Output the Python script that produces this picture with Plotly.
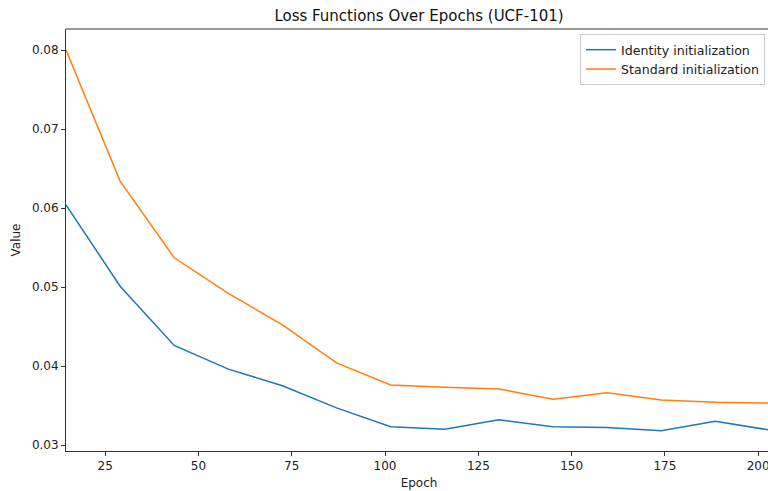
import plotly.graph_objects as go

epochs = [14.5, 29, 43.5, 58, 72.5, 87, 101.5, 116, 130.5, 145, 159.5, 174, 188.5, 203]
identity_loss = [0.0604, 0.0501, 0.0426, 0.0396, 0.0375, 0.0347, 0.0323, 0.0320, 0.0332, 0.0323, 0.0322, 0.0318, 0.0330, 0.0319]
standard_loss = [0.0800, 0.0634, 0.0537, 0.0492, 0.0452, 0.0404, 0.0376, 0.0373, 0.0371, 0.0358, 0.0366, 0.0357, 0.0354, 0.0353]
y_ticks = [0.03, 0.04, 0.05, 0.06, 0.07, 0.08]
x_ticks = [25, 50, 75, 100, 125, 150, 175, 200]

fig = go.Figure()
fig.add_trace(go.Scatter(x=epochs, y=identity_loss, mode="lines", name="Identity initialization",
                         line=dict(color="#1f77b4", width=1.5)))
fig.add_trace(go.Scatter(x=epochs, y=standard_loss, mode="lines", name="Standard initialization",
                         line=dict(color="#ff7f0e", width=1.5)))

font = "DejaVu Sans, sans-serif"
axis_common = dict(showgrid=False, zeroline=False, showline=True, linecolor="#333", linewidth=1,
                   ticks="outside", ticklen=4, tickcolor="#333", tickwidth=1, automargin=False,
                   tickfont=dict(family=font, size=12, color="#222"))

W = 772
fig.update_layout(
    width=W, height=491,
    margin=dict(l=66, r=0, t=29, b=40, autoexpand=False),
    plot_bgcolor="white", paper_bgcolor="white",
    title=dict(text="Loss Functions Over Epochs (UCF-101)", x=419/W, xanchor="center",
               y=1 - 16/491, yanchor="middle", xref="container", yref="container",
               font=dict(family=font, size=15, color="#111")),
    xaxis=dict(range=[14.5, 203.7], tickvals=x_ticks, mirror=False,
               title=dict(text="Epoch", font=dict(family=font, size=12, color="#222"), standoff=6),
               **axis_common),
    yaxis=dict(range=[0.02924, 0.08266], tickvals=y_ticks, tickformat=".2f",
               title=dict(text="Value", font=dict(family=font, size=12, color="#222"), standoff=8),
               **axis_common),
    legend=dict(x=(765-66)/(W-66), xanchor="right", y=1 - 5/422, yanchor="top",
                bordercolor="#ccc", borderwidth=1, bgcolor="rgba(255,255,255,0.8)",
                font=dict(family=font, size=12.6, color="#222"), tracegroupgap=0, itemwidth=30),
    showlegend=True,
)
# top spine
fig.add_shape(type="line", xref="paper", yref="paper", x0=0, x1=1, y0=1, y1=1,
              line=dict(color="#333", width=1))

fig.write_html("out.html", config={"displayModeBar": False},
               post_script="document.body.style.margin='0';document.body.style.padding='0';"
                           "document.body.style.overflow='hidden';"
                           "document.documentElement.style.overflow='hidden';")
